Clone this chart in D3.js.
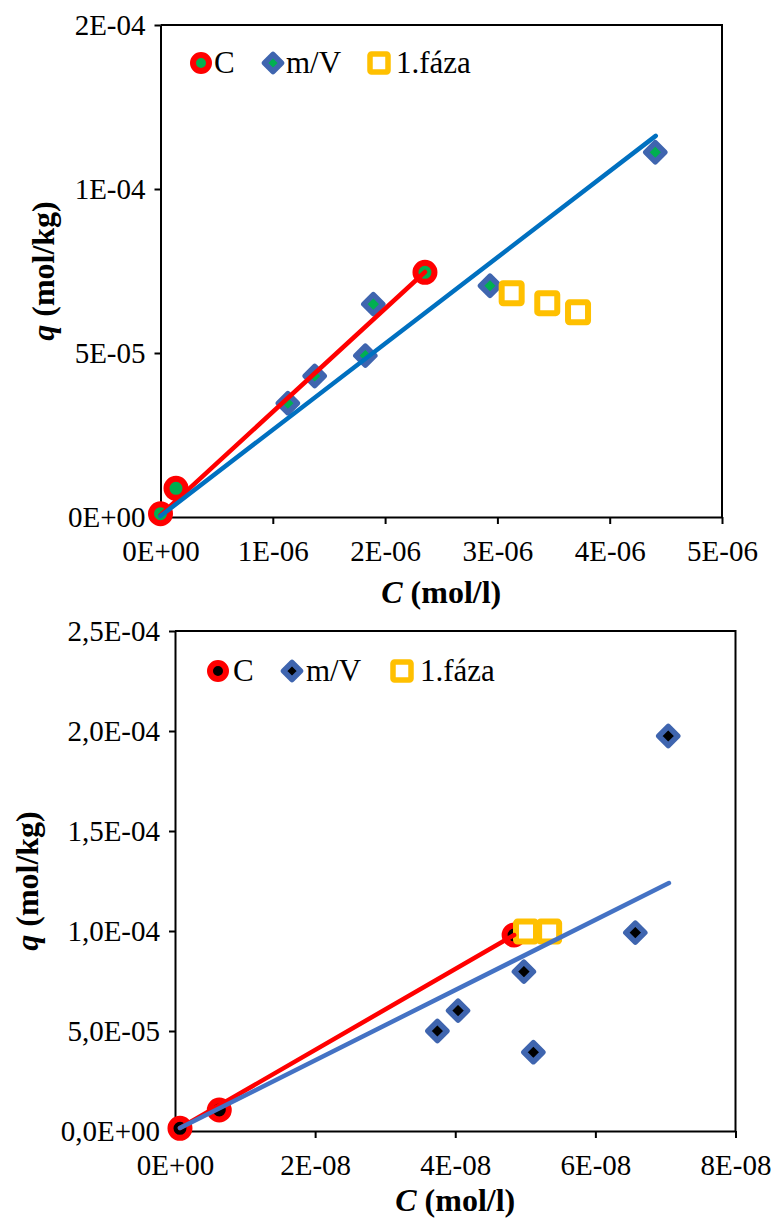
<!DOCTYPE html>
<html><head><meta charset="utf-8">
<script src="https://cdn.jsdelivr.net/npm/d3@7"></script>
<style>
html,body{margin:0;padding:0;background:#fff;}
svg{display:block;}
svg text{font-family:"Liberation Serif","Times New Roman",Times,serif !important;fill:#000;}
</style></head>
<body>
<svg id="chart" width="778" height="1220" font-family="Liberation Serif, Times New Roman, serif"></svg>
<script>
// ---------- Data: chart 1 (top) ----------
const top_C_x   = [0, 0.138e-6, 2.355e-6];
const top_C_q   = [1.0e-6, 8.75e-6, 7.46e-5];
const top_mV_x  = [1.134e-6, 1.373e-6, 1.824e-6, 1.895e-6, 2.934e-6, 4.406e-6];
const top_mV_q  = [3.47e-5, 4.30e-5, 4.92e-5, 6.49e-5, 7.05e-5, 1.112e-4];
const top_f1_x  = [3.127e-6, 3.444e-6, 3.718e-6];
const top_f1_q  = [6.82e-5, 6.52e-5, 6.24e-5];
const top_trendC_x  = [0, 2.355e-6];
const top_trendC_q  = [0.6e-6, 7.47e-5];
const top_trendMV_x = [0, 4.41e-6];
const top_trendMV_q = [0.3e-6, 1.162e-4];
const top_xTicks = [0, 1e-6, 2e-6, 3e-6, 4e-6, 5e-6];
const top_xTickLabels = ["0E+00","1E-06","2E-06","3E-06","4E-06","5E-06"];
const top_yTicks = [0, 5e-5, 1e-4, 1.5e-4];
const top_yTickLabels = ["0E+00","5E-05","1E-04","2E-04"];

// ---------- Data: chart 2 (bottom) ----------
const bot_C_x   = [0.71e-9, 6.32e-9, 4.84e-8];
const bot_C_q   = [1.35e-6, 1.05e-5, 9.8e-5];
const bot_mV_x  = [3.745e-8, 4.04e-8, 4.98e-8, 5.115e-8, 6.57e-8, 7.04e-8];
const bot_mV_q  = [5.0e-5, 6.02e-5, 7.97e-5, 3.94e-5, 9.92e-5, 1.975e-4];
const bot_f1_x  = [5.01e-8, 5.34e-8];
const bot_f1_q  = [9.97e-5, 9.97e-5];
const bot_trendC_x  = [0.71e-9, 4.84e-8];
const bot_trendC_q  = [1.5e-6, 9.8e-5];
const bot_trendMV_x = [0.71e-9, 7.05e-8];
const bot_trendMV_q = [1.5e-6, 1.24e-4];
const bot_xTicks = [0, 2e-8, 4e-8, 6e-8, 8e-8];
const bot_xTickLabels = ["0E+00","2E-08","4E-08","6E-08","8E-08"];
const bot_yTicks = [0, 5e-5, 1e-4, 1.5e-4, 2e-4, 2.5e-4];
const bot_yTickLabels = ["0,0E+00","5,0E-05","1,0E-04","1,5E-04","2,0E-04","2,5E-04"];

const seriesNames = ["C", "m/V", "1.fáza"];

const FONT = '"Liberation Serif","Times New Roman",Times,serif';
const svg = d3.select("#chart");
const zip = (xs, ys) => xs.map((x, i) => [x, ys[i]]);

function diamondPath(h){ return `M0,${-h}L${h},0L0,${h}L${-h},0Z`; }

function drawChart(cfg){
  const g = svg.append("g");
  const x = d3.scaleLinear().domain(cfg.xDomain).range([cfg.left, cfg.right]);
  const y = d3.scaleLinear().domain(cfg.yDomain).range([cfg.bottom, cfg.top]);

  // frame (top and right)
  g.append("path")
    .attr("d", `M${cfg.left},${cfg.top}H${cfg.right}V${cfg.bottom}`)
    .attr("fill","none").attr("stroke","#000").attr("stroke-width",2);

  // axes
  const xAxis = d3.axisBottom(x).tickValues(cfg.xTicks)
    .tickFormat((d,i)=>cfg.xTickLabels[i]).tickSize(7).tickSizeOuter(0).tickPadding(cfg.xPad);
  const yAxis = d3.axisLeft(y).tickValues(cfg.yTicks)
    .tickFormat((d,i)=>cfg.yTickLabels[i]).tickSize(6).tickSizeOuter(0).tickPadding(9);
  const gx = g.append("g").attr("transform",`translate(0,${cfg.bottom})`).call(xAxis);
  const gy = g.append("g").attr("transform",`translate(${cfg.left},0)`).call(yAxis);
  [gx, gy].forEach(a=>{
    a.attr("font-family", FONT).attr("font-size", 29);
    a.selectAll("path.domain").attr("stroke","#000").attr("stroke-width",2);
    a.selectAll(".tick line").attr("stroke","#000").attr("stroke-width",2);
    a.selectAll(".tick text").attr("font-family", FONT).attr("font-size",29).attr("fill","#000");
  });

  // markers: C
  g.append("g").selectAll("circle").data(zip(cfg.cX, cfg.cQ)).join("circle")
    .attr("cx",d=>x(d[0])).attr("cy",d=>y(d[1])).attr("r",9.5)
    .attr("fill",cfg.innerFill).attr("stroke","#FF0000").attr("stroke-width",6);
  // markers: m/V
  g.append("g").selectAll("path").data(zip(cfg.mvX, cfg.mvQ)).join("path")
    .attr("d",diamondPath(9.5))
    .attr("transform",d=>`translate(${x(d[0])},${y(d[1])})`)
    .attr("fill",cfg.innerFill).attr("stroke","#3F65AF").attr("stroke-width",5.5)
    .attr("stroke-linejoin","round");
  // markers: 1.fáza
  g.append("g").selectAll("rect").data(zip(cfg.f1X, cfg.f1Q)).join("rect")
    .attr("x",d=>x(d[0])-10).attr("y",d=>y(d[1])-10).attr("width",20).attr("height",20)
    .attr("rx",1.5)
    .attr("fill","#fff").attr("stroke","#FFC000").attr("stroke-width",6);

  // trend lines
  const line = d3.line().x(d=>x(d[0])).y(d=>y(d[1]));
  g.append("path").datum(zip(cfg.tcX, cfg.tcQ)).attr("d",line)
    .attr("fill","none").attr("stroke","#FF0000").attr("stroke-width",4.5).attr("stroke-linecap","round");
  g.append("path").datum(zip(cfg.tmX, cfg.tmQ)).attr("d",line)
    .attr("fill","none").attr("stroke",cfg.blueLine).attr("stroke-width",4.5).attr("stroke-linecap","round");

  // legend
  const L = cfg.legend;
  const lg = g.append("g");
  lg.append("circle").attr("cx",L.c[0]).attr("cy",L.y).attr("r",8)
    .attr("fill",cfg.innerFill).attr("stroke","#FF0000").attr("stroke-width",6);
  lg.append("path").attr("d",diamondPath(8.5)).attr("transform",`translate(${L.d[0]},${L.y})`)
    .attr("fill",cfg.innerFill).attr("stroke","#3F65AF").attr("stroke-width",5.5).attr("stroke-linejoin","round");
  lg.append("rect").attr("x",L.s[0]-9).attr("y",L.y-9).attr("width",18).attr("height",18).attr("rx",1.5)
    .attr("fill","#fff").attr("stroke","#FFC000").attr("stroke-width",5.5);
  [L.c[1], L.d[1], L.s[1]].forEach((tx,i)=>{
    lg.append("text").attr("x",tx).attr("y",L.y+10)
      .attr("font-family", FONT).attr("font-size",31).text(seriesNames[i]);
  });

  // axis titles
  const xt = g.append("text").attr("x",(cfg.left+cfg.right)/2).attr("y",cfg.xTitleY)
    .attr("text-anchor","middle").attr("font-family", FONT).attr("font-size",32).attr("font-weight","bold");
  xt.append("tspan").attr("font-style","italic").text("C");
  xt.append("tspan").text(" (mol/l)");
  const yt = g.append("text")
    .attr("transform",`translate(${cfg.yTitleX},${(cfg.top+cfg.bottom)/2}) rotate(-90)`)
    .attr("text-anchor","middle").attr("font-family", FONT).attr("font-size",32).attr("font-weight","bold");
  yt.append("tspan").attr("font-style","italic").text("q");
  yt.append("tspan").text(" (mol/kg)");
}

drawChart({
  left:160.5, right:722, top:25, bottom:517,
  xDomain:[0,5e-6], yDomain:[0,1.5e-4],
  xTicks:top_xTicks, xTickLabels:top_xTickLabels, yTicks:top_yTicks, yTickLabels:top_yTickLabels,
  xPad:16,
  cX:top_C_x, cQ:top_C_q, mvX:top_mV_x, mvQ:top_mV_q, f1X:top_f1_x, f1Q:top_f1_q,
  tcX:top_trendC_x, tcQ:top_trendC_q, tmX:top_trendMV_x, tmQ:top_trendMV_q,
  innerFill:"#00B050", blueLine:"#0070C0",
  legend:{y:63, c:[201,214], d:[273,286], s:[379,396]},
  xTitleY:603, yTitleX:54
});

drawChart({
  left:175, right:735.5, top:631, bottom:1131,
  xDomain:[0,8e-8], yDomain:[0,2.5e-4],
  xTicks:bot_xTicks, xTickLabels:bot_xTickLabels, yTicks:bot_yTicks, yTickLabels:bot_yTickLabels,
  xPad:16,
  cX:bot_C_x, cQ:bot_C_q, mvX:bot_mV_x, mvQ:bot_mV_q, f1X:bot_f1_x, f1Q:bot_f1_q,
  tcX:bot_trendC_x, tcQ:bot_trendC_q, tmX:bot_trendMV_x, tmQ:bot_trendMV_q,
  innerFill:"#000000", blueLine:"#4472C4",
  legend:{y:671, c:[218,233], d:[292,306], s:[402,420]},
  xTitleY:1211, yTitleX:38
});
</script>
</body></html>
